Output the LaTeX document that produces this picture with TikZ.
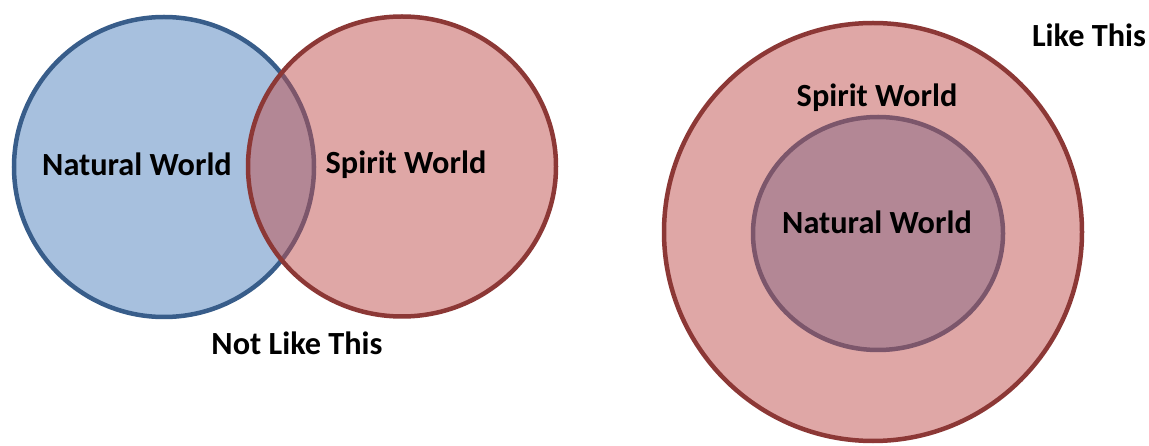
\documentclass[tikz,border=0pt]{standalone}
\usepackage{fontspec}
\setmainfont{Carlito}
\usetikzlibrary{shapes.geometric}
\definecolor{bluefill}{HTML}{4F81BD}
\definecolor{blueline}{HTML}{385D8A}
\definecolor{redfill}{HTML}{C0504D}
\definecolor{redline}{HTML}{8C3836}
\tikzset{
  bluecirc/.style={circle, draw=blueline, fill=bluefill, fill opacity=0.5, draw opacity=1, line width=4.5pt, inner sep=0pt},
  redcirc/.style={circle, draw=redline, fill=redfill, fill opacity=0.5, draw opacity=1, line width=4.5pt, inner sep=0pt},
  lbl/.style={anchor=base, inner sep=0pt, font=\fontsize{32.3}{38}\selectfont\bfseries, text=black}
}
\begin{document}
\begin{tikzpicture}[x=1pt,y=-1pt]
\useasboundingbox (0,0) rectangle (1149,446);
% left: Venn
\node[bluecirc, minimum size=300pt] (nat) at (164,167) {};
\node[redcirc, ellipse, minimum width=308pt, minimum height=300pt] (spi) at (402,166.5) {};
% right: nested
\node[bluecirc, ellipse, minimum width=250pt, minimum height=233pt] (inner) at (878,233.5) {};
\node[redcirc, minimum size=418pt] (outer) at (873,232) {};
% labels
\node[lbl] (t1) at (137,176) {Natural World};
\node[lbl] (t2) at (406,174) {Spirit World};
\node[lbl] (t3) at (297,355) {Not Like This};
\node[lbl] (t4) at (1089,47) {Like This};
\node[lbl] (t5) at (877,107) {Spirit World};
\node[lbl] (t6) at (877,234) {Natural World};
\end{tikzpicture}
\end{document}
